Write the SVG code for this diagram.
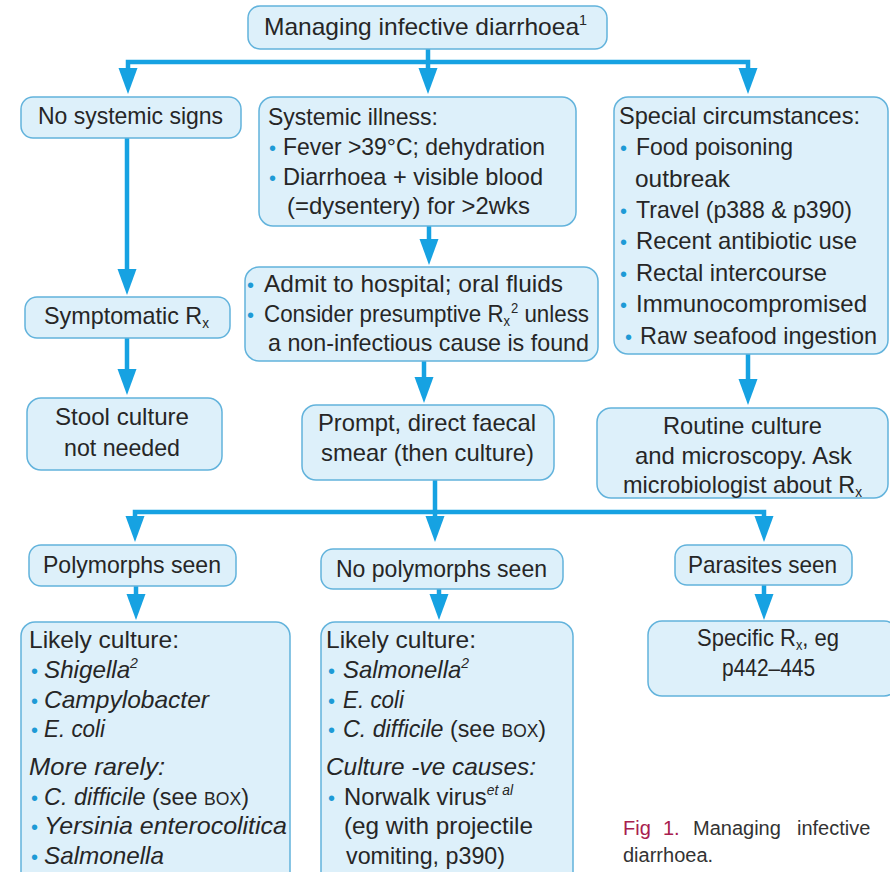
<svg xmlns="http://www.w3.org/2000/svg" width="890" height="872" viewBox="0 0 890 872">
<style>
.box{fill:#ddf0fa;stroke:#62b3dc;stroke-width:1.5}
.t{font-family:"Liberation Sans Narrow","Liberation Sans",Arial,sans-serif;font-size:24px;fill:#262626}
.i{font-style:italic}
.b{font-family:"Liberation Sans",Arial,sans-serif;font-size:20px;fill:#1e9ad6}
.sm{font-size:14px}
.sc{font-size:18px}
.con{fill:none;stroke:#16a2e2;stroke-width:4.5}
.cap{font-family:"Liberation Sans",Arial,sans-serif;font-size:20px;fill:#333}
</style>
<defs>
<marker id="ah" markerUnits="userSpaceOnUse" markerWidth="26" markerHeight="20" viewBox="0 -10 26 20" refX="18" refY="0" orient="auto-start-reverse">
<path d="M0,-9.5 L26,0 L0,9.5 z" fill="#16a2e2"/>
</marker>
</defs>
<rect width="890" height="872" fill="#ffffff"/>

<g id="connectors">
<path class="con" d="M428,49 V86" marker-end="url(#ah)"/>
<path class="con" d="M128,86 V62 H748 V86" marker-start="url(#ah)" marker-end="url(#ah)"/>
<path class="con" d="M127,138 V287" marker-end="url(#ah)"/>
<path class="con" d="M127,338 V387" marker-end="url(#ah)"/>
<path class="con" d="M429,226 V257" marker-end="url(#ah)"/>
<path class="con" d="M424,361 V395" marker-end="url(#ah)"/>
<path class="con" d="M748,354 V397" marker-end="url(#ah)"/>
<path class="con" d="M435,480 V534" marker-end="url(#ah)"/>
<path class="con" d="M135,534 V512 H764 V534" marker-start="url(#ah)" marker-end="url(#ah)"/>
<path class="con" d="M136,586 V612" marker-end="url(#ah)"/>
<path class="con" d="M439,589 V612" marker-end="url(#ah)"/>
<path class="con" d="M764,585 V612" marker-end="url(#ah)"/>
</g>

<g id="top">
<rect class="box" x="248" y="6" width="359" height="43" rx="12"/>
<text class="t" x="264" y="35" textLength="323" lengthAdjust="spacingAndGlyphs">Managing infective diarrhoea<tspan class="sm" dy="-10">1</tspan></text>
</g>

<g id="nosys">
<rect class="box" x="21" y="97" width="220" height="41" rx="12"/>
<text class="t" x="38" y="124" textLength="185" lengthAdjust="spacingAndGlyphs">No systemic signs</text>
</g>

<g id="systemic">
<rect class="box" x="259" y="97" width="317" height="129" rx="14"/>
<text class="t" x="268" y="125" textLength="170" lengthAdjust="spacingAndGlyphs">Systemic illness:</text>
<text class="b" x="269" y="155">•</text>
<text class="t" x="283" y="155" textLength="262" lengthAdjust="spacingAndGlyphs">Fever &gt;39°C; dehydration</text>
<text class="b" x="269" y="185">•</text>
<text class="t" x="283" y="185" textLength="260" lengthAdjust="spacingAndGlyphs">Diarrhoea + visible blood</text>
<text class="t" x="287" y="214" textLength="243" lengthAdjust="spacingAndGlyphs">(=dysentery) for &gt;2wks</text>
</g>

<g id="special">
<rect class="box" x="614" y="97" width="274" height="257" rx="14"/>
<text class="t" x="619" y="124" textLength="241" lengthAdjust="spacingAndGlyphs">Special circumstances:</text>
<text class="b" x="620" y="155">•</text>
<text class="t" x="636" y="155" textLength="157" lengthAdjust="spacingAndGlyphs">Food poisoning</text>
<text class="t" x="635" y="187" textLength="95" lengthAdjust="spacingAndGlyphs">outbreak</text>
<text class="b" x="620" y="218">•</text>
<text class="t" x="636" y="218" textLength="216" lengthAdjust="spacingAndGlyphs">Travel (p388 &amp; p390)</text>
<text class="b" x="620" y="249">•</text>
<text class="t" x="636" y="249" textLength="221" lengthAdjust="spacingAndGlyphs">Recent antibiotic use</text>
<text class="b" x="620" y="281">•</text>
<text class="t" x="636" y="281" textLength="191" lengthAdjust="spacingAndGlyphs">Rectal intercourse</text>
<text class="b" x="620" y="312">•</text>
<text class="t" x="636" y="312" textLength="231" lengthAdjust="spacingAndGlyphs">Immunocompromised</text>
<text class="b" x="625" y="344">•</text>
<text class="t" x="640" y="344" textLength="237" lengthAdjust="spacingAndGlyphs">Raw seafood ingestion</text>
</g>

<g id="symptomatic">
<rect class="box" x="25" y="297" width="205" height="41" rx="12"/>
<text class="t" x="44" y="324" textLength="165" lengthAdjust="spacingAndGlyphs">Symptomatic R<tspan class="sm" dy="4">x</tspan></text>
</g>

<g id="admit">
<rect class="box" x="245" y="267" width="353" height="94" rx="14"/>
<text class="b" x="247" y="292">•</text>
<text class="t" x="264" y="292" textLength="299" lengthAdjust="spacingAndGlyphs">Admit to hospital; oral fluids</text>
<text class="b" x="247" y="322">•</text>
<text class="t" x="264" y="322" textLength="325" lengthAdjust="spacingAndGlyphs">Consider presumptive R<tspan class="sm" dy="4">x</tspan><tspan class="sm" dx="1" dy="-13">2</tspan><tspan dy="9"> unless</tspan></text>
<text class="t" x="268" y="351" textLength="321" lengthAdjust="spacingAndGlyphs">a non-infectious cause is found</text>
</g>

<g id="stool">
<rect class="box" x="27" y="398" width="195" height="72" rx="14"/>
<text class="t" x="55" y="425" textLength="134" lengthAdjust="spacingAndGlyphs">Stool culture</text>
<text class="t" x="64" y="456" textLength="116" lengthAdjust="spacingAndGlyphs">not needed</text>
</g>

<g id="prompt">
<rect class="box" x="302" y="405" width="252" height="75" rx="14"/>
<text class="t" x="318" y="431" textLength="218" lengthAdjust="spacingAndGlyphs">Prompt, direct faecal</text>
<text class="t" x="321" y="461" textLength="213" lengthAdjust="spacingAndGlyphs">smear (then culture)</text>
</g>

<g id="routine">
<rect class="box" x="597" y="408" width="291" height="90" rx="14"/>
<text class="t" x="663" y="434" textLength="159" lengthAdjust="spacingAndGlyphs">Routine culture</text>
<text class="t" x="635" y="464" textLength="217" lengthAdjust="spacingAndGlyphs">and microscopy. Ask</text>
<text class="t" x="623" y="493" textLength="239" lengthAdjust="spacingAndGlyphs">microbiologist about R<tspan class="sm" dy="4">x</tspan></text>
</g>

<g id="poly">
<rect class="box" x="29" y="545" width="207" height="41" rx="12"/>
<text class="t" x="43" y="573" textLength="178" lengthAdjust="spacingAndGlyphs">Polymorphs seen</text>
</g>

<g id="nopoly">
<rect class="box" x="321" y="549" width="242" height="40" rx="12"/>
<text class="t" x="336" y="577" textLength="211" lengthAdjust="spacingAndGlyphs">No polymorphs seen</text>
</g>

<g id="parasites">
<rect class="box" x="675" y="545" width="177" height="40" rx="12"/>
<text class="t" x="688" y="573" textLength="149" lengthAdjust="spacingAndGlyphs">Parasites seen</text>
</g>

<g id="likely1">
<rect class="box" x="21" y="622" width="269" height="270" rx="14"/>
<text class="t" x="29" y="648" textLength="150" lengthAdjust="spacingAndGlyphs">Likely culture:</text>
<text class="b" x="31" y="678">•</text>
<text class="t i" x="44" y="678" textLength="94" lengthAdjust="spacingAndGlyphs">Shigella<tspan class="sm" dy="-10">2</tspan></text>
<text class="b" x="31" y="708">•</text>
<text class="t i" x="44" y="708" textLength="165" lengthAdjust="spacingAndGlyphs">Campylobacter</text>
<text class="b" x="31" y="737">•</text>
<text class="t i" x="44" y="737" textLength="61" lengthAdjust="spacingAndGlyphs">E. coli</text>
<text class="t i" x="29" y="775" textLength="136" lengthAdjust="spacingAndGlyphs">More rarely:</text>
<text class="b" x="31" y="805">•</text>
<text class="t" x="44" y="805" textLength="205" lengthAdjust="spacingAndGlyphs"><tspan class="i">C. difficile</tspan> (see <tspan class="sc">BOX</tspan>)</text>
<text class="b" x="31" y="834">•</text>
<text class="t i" x="44" y="834" textLength="243" lengthAdjust="spacingAndGlyphs">Yersinia enterocolitica</text>
<text class="b" x="31" y="864">•</text>
<text class="t i" x="44" y="864" textLength="120" lengthAdjust="spacingAndGlyphs">Salmonella</text>
</g>

<g id="likely2">
<rect class="box" x="321" y="622" width="252" height="270" rx="14"/>
<text class="t" x="326" y="648" textLength="150" lengthAdjust="spacingAndGlyphs">Likely culture:</text>
<text class="b" x="328" y="678">•</text>
<text class="t i" x="343" y="678" textLength="126" lengthAdjust="spacingAndGlyphs">Salmonella<tspan class="sm" dy="-10">2</tspan></text>
<text class="b" x="328" y="708">•</text>
<text class="t i" x="343" y="708" textLength="61" lengthAdjust="spacingAndGlyphs">E. coli</text>
<text class="b" x="328" y="737">•</text>
<text class="t" x="343" y="737" textLength="203" lengthAdjust="spacingAndGlyphs"><tspan class="i">C. difficile</tspan> (see <tspan class="sc">BOX</tspan>)</text>
<text class="t i" x="326" y="775" textLength="210" lengthAdjust="spacingAndGlyphs">Culture -ve causes:</text>
<text class="b" x="328" y="805">•</text>
<text class="t" x="344" y="805" textLength="169" lengthAdjust="spacingAndGlyphs">Norwalk virus<tspan class="sm i" dy="-10">et al</tspan></text>
<text class="t" x="344" y="834" textLength="189" lengthAdjust="spacingAndGlyphs">(eg with projectile</text>
<text class="t" x="346" y="864" textLength="159" lengthAdjust="spacingAndGlyphs">vomiting, p390)</text>
</g>

<g id="specific">
<rect class="box" x="648" y="621" width="250" height="75" rx="14"/>
<text class="t" x="697" y="646" textLength="142" lengthAdjust="spacingAndGlyphs">Specific R<tspan class="sm" dy="4">x</tspan><tspan dy="-4">, eg</tspan></text>
<text class="t" x="722" y="676" textLength="93" lengthAdjust="spacingAndGlyphs">p442–445</text>
</g>

<g id="caption">
<text class="cap" y="835"><tspan x="623" fill="#a8204e">Fig</tspan> <tspan x="663" fill="#a8204e">1.</tspan> <tspan x="693">Managing</tspan> <tspan x="797">infective</tspan></text>
<text class="cap" x="623" y="862">diarrhoea.</text>
</g>
</svg>
